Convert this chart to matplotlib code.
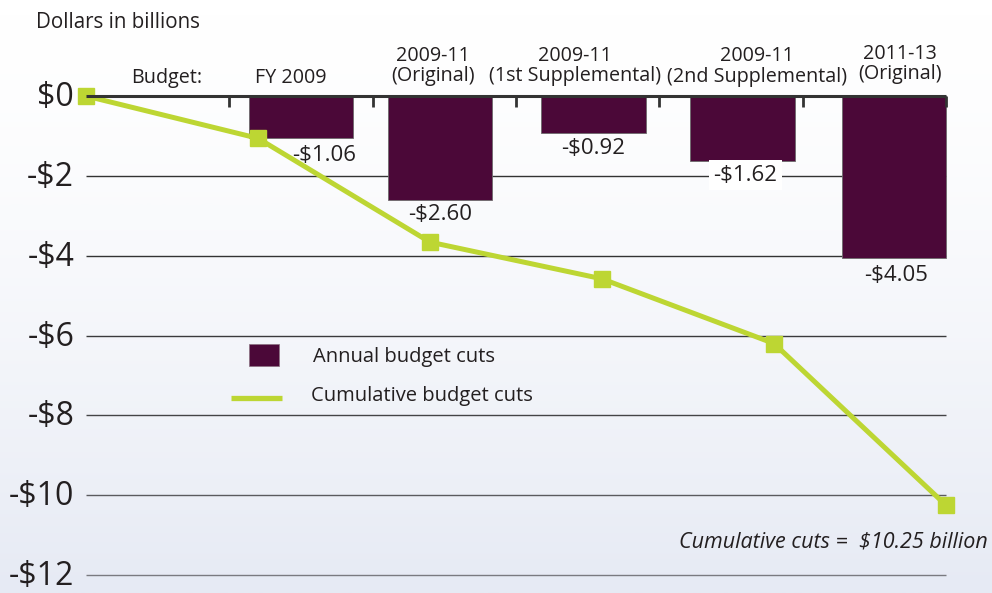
import numpy as np
import matplotlib.pyplot as plt
from matplotlib.colors import LinearSegmentedColormap

plt.rcParams['font.family'] = ['Open Sans', 'DejaVu Sans']

# ------------------------------------------------------------------
# data
# ------------------------------------------------------------------
budgets = ['FY 2009', '2009-11\n(Original)', '2009-11\n(1st Supplemental)',
           '2009-11\n(2nd Supplemental)', '2011-13\n(Original)']
annual_cuts = [-1.06, -2.60, -0.92, -1.62, -4.05]
annual_labels = ['-$1.06', '-$2.60', '-$0.92', '-$1.62', '-$4.05']
cumulative = [0.0, -1.06, -3.66, -4.58, -6.20, -10.25]
y_ticks = [0, -2, -4, -6, -8, -10, -12]
y_tick_labels = ['$0', '-$2', '-$4', '-$6', '-$8', '-$10', '-$12']

# ------------------------------------------------------------------
# layout (x in "slot" units: 0 = left edge of plot, 6 = right edge)
# ------------------------------------------------------------------
BAR_COLOR = '#4b0838'
LINE_COLOR = '#bdd633'
TEXT_COLOR = '#231f20'
bar_x = [1.50, 2.47, 3.54, 4.58, 5.635]
bar_w = 0.728
line_x = [0, 1.2, 2.4, 3.6, 4.8, 6.0]
cat_x = [1.43, 2.42, 3.41, 4.68, 5.68]
cat_y = [0.46, 0.75, 0.75, 0.73, 0.80]
label_pos = [(1.66, -1.48), (2.47, -2.98), (3.54, -1.31), (4.6, -1.98), (5.65, -4.5)]

fig = plt.figure(figsize=(9.92, 5.93), dpi=100)

# gradient background
bg = fig.add_axes([0, 0, 1, 1])
grad = np.linspace(0, 1, 256).reshape(-1, 1) ** 1.5
cmap = LinearSegmentedColormap.from_list('bg', ['#ffffff', '#e6eaf4'])
bg.imshow(grad, aspect='auto', cmap=cmap, extent=[0, 1, 1, 0])
bg.axis('off')

ax = fig.add_axes([0, 0, 1, 1])
ax.patch.set_alpha(0)
ax.set_xlim(-0.6, 6.321)
ax.set_ylim(-12.45, 2.405)
ax.axis('off')

# grid lines, getting lighter toward the bottom
grid_cols = ['#333333', '#333333', '#3a3a3c', '#444446', '#5a5a5e', '#7a7a80']
for v, c in zip(y_ticks[1:], grid_cols):
    ax.hlines(v, 0, 6, color=c, lw=1.0, zorder=1)

# bars
ax.bar(bar_x, annual_cuts, width=bar_w, color=BAR_COLOR,
       edgecolor='#6d6a6c', linewidth=0.6, zorder=2)

# zero line with ticks hanging below it
ax.hlines(0, 0, 6, color='#333333', lw=2.2, zorder=4)
ax.vlines([1, 2, 3, 4, 5, 6], 0, -0.27, color='#333333', lw=2.0, zorder=4)
ax.vlines([0], 0, -0.15, color='#333333', lw=1.5, zorder=1)

# cumulative line
ax.plot(line_x, cumulative, color=LINE_COLOR, lw=3.6, marker='s',
        markersize=11, zorder=3)

# y tick labels
for v, t in zip(y_ticks, y_tick_labels):
    ax.text(-0.082, v - 0.04, t, ha='right', va='center', fontsize=23,
            color=TEXT_COLOR)

# bar value labels
for (x, y), t in zip(label_pos, annual_labels):
    box = None
    if t == '-$1.62':
        box = dict(facecolor='white', edgecolor='none', pad=3)
    ax.text(x, y, t, ha='center', va='center', fontsize=16,
            color=TEXT_COLOR, bbox=box, zorder=5)

# category labels
ax.text(0.56, 0.46, 'Budget:', ha='center', va='center', fontsize=14.2,
        color=TEXT_COLOR)
for x, y, t in zip(cat_x, cat_y, budgets):
    ax.text(x, y, t, ha='center', va='center', fontsize=14.2,
            color=TEXT_COLOR, linespacing=1.05)

ax.text(-0.349, 1.85, 'Dollars in billions', ha='left', va='center',
        fontsize=14.8, color=TEXT_COLOR)

# legend drawn by hand
ax.bar([1.24], [-0.55], bottom=-6.21, width=0.21, color=BAR_COLOR,
       edgecolor='#8a7080', linewidth=0.5)
ax.text(1.585, -6.55, 'Annual budget cuts', ha='left', va='center',
        fontsize=14.5, color=TEXT_COLOR)
ax.hlines(-7.56, 1.01, 1.37, color=LINE_COLOR, lw=3.8)
ax.text(1.57, -7.52, 'Cumulative budget cuts', ha='left', va='center',
        fontsize=14.5, color=TEXT_COLOR)

ax.text(6.29, -11.17, 'Cumulative cuts =  $10.25 billion', ha='right',
        va='center', fontsize=15.5, style='italic', color=TEXT_COLOR)

fig.savefig('out.png', dpi=100)
